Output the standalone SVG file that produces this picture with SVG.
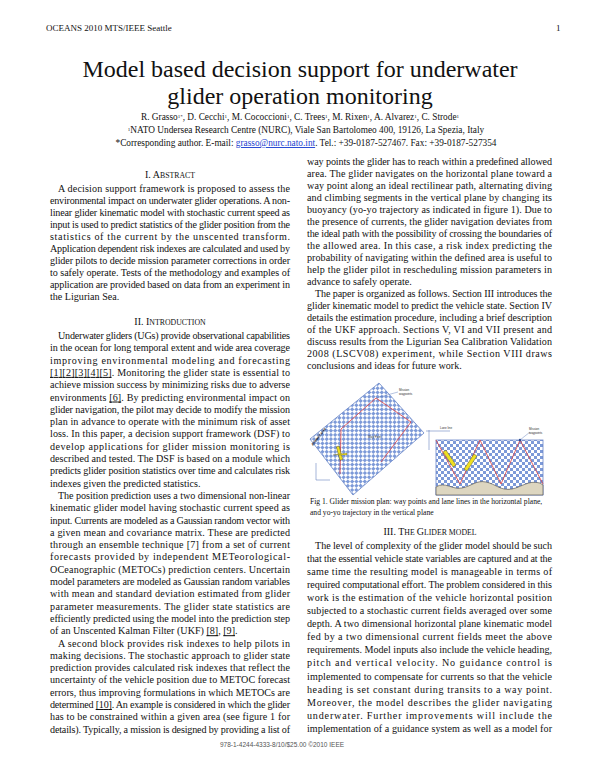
<svg xmlns="http://www.w3.org/2000/svg" width="600" height="776" viewBox="0 0 600 776">
<style>
text{font-family:"Liberation Serif","Times New Roman",serif;fill:#111}
.b{font-size:10.1px}
.h{font-size:10px}
.sc{font-size:7.8px}
.a{text-decoration:underline}
.lk{text-decoration:underline;fill:#1a3fd0}
.cap{font-size:7.6px}
.tiny{font-family:"Liberation Sans",Arial,sans-serif;font-size:3px;fill:#333}
</style>
<defs>
<pattern id="chk" width="6" height="6" patternUnits="userSpaceOnUse">
<rect width="6" height="6" fill="#fff"/>
<rect width="3" height="3" fill="#7d9ad8"/>
<rect x="3" y="3" width="3" height="3" fill="#7d9ad8"/>
</pattern>
<pattern id="chk2" width="6" height="6" patternUnits="userSpaceOnUse" patternTransform="rotate(45)">
<rect width="6" height="6" fill="#fff"/>
<rect width="3" height="3" fill="#7d9ad8"/>
<rect x="3" y="3" width="3" height="3" fill="#7d9ad8"/>
</pattern>
</defs>
<rect width="600" height="776" fill="#fff"/>
<g id="header">
<text x="46" y="31" style="font-size:9px">OCEANS 2010 MTS/IEEE Seattle</text>
<text x="556" y="31" style="font-size:9px">1</text>
</g>
<g id="title" text-anchor="middle">
<text x="300" y="77" style="font-size:24px">Model based decision support for underwater</text>
<text x="300" y="104" style="font-size:24px">glider operation monitoring</text>
<text x="300" y="120" style="font-size:9.3px">R. Grasso<tspan style="font-size:5px" baseline-shift="super">1*</tspan>, D. Cecchi<tspan style="font-size:5px" baseline-shift="super">1</tspan>, M. Cococcioni<tspan style="font-size:5px" baseline-shift="super">1</tspan>, C. Trees<tspan style="font-size:5px" baseline-shift="super">1</tspan>, M. Rixen<tspan style="font-size:5px" baseline-shift="super">1</tspan>, A. Alvarez<tspan style="font-size:5px" baseline-shift="super">1</tspan>, C. Strode<tspan style="font-size:5px" baseline-shift="super">1</tspan></text>
<text x="306" y="133" style="font-size:9.3px"><tspan style="font-size:5px" baseline-shift="super">1</tspan>NATO Undersea Research Centre (NURC), Viale San Bartolomeo 400, 19126, La Spezia, Italy</text>
<text x="306" y="146" style="font-size:9.3px">*Corresponding author. E-mail: <tspan class="lk">grasso@nurc.nato.int</tspan>. Tel.: +39-0187-527467. Fax: +39-0187-527354</text>
</g>
<g id="left" class="b">
<text class="h" x="170" y="178" text-anchor="middle">I.  A<tspan class="sc">BSTRACT</tspan></text>
<text x="58" y="192" textLength="232" lengthAdjust="spacing">A decision support framework is proposed to assess the</text>
<text x="50" y="204" textLength="240" lengthAdjust="spacing">environmental impact on underwater glider operations. A non-</text>
<text x="50" y="216" textLength="240" lengthAdjust="spacing">linear glider kinematic model with stochastic current speed as</text>
<text x="50" y="228" textLength="240" lengthAdjust="spacing">input is used to predict statistics of the glider position from the</text>
<text x="50" y="240" textLength="240" lengthAdjust="spacing">statistics of the current by the unscented transform.</text>
<text x="50" y="252" textLength="240" lengthAdjust="spacing">Application dependent risk indexes are calculated and used by</text>
<text x="50" y="264" textLength="240" lengthAdjust="spacing">glider pilots to decide mission parameter corrections in order</text>
<text x="50" y="276" textLength="240" lengthAdjust="spacing">to safely operate. Tests of the methodology and examples of</text>
<text x="50" y="288" textLength="240" lengthAdjust="spacing">application are provided based on data from an experiment in</text>
<text x="50" y="300">the Ligurian Sea.</text>
<text class="h" x="170" y="325" text-anchor="middle">II.  I<tspan class="sc">NTRODUCTION</tspan></text>
<text x="58" y="339" textLength="232" lengthAdjust="spacing">Underwater gliders (UGs) provide observational capabilities</text>
<text x="50" y="351.3" textLength="240" lengthAdjust="spacing">in the ocean for long temporal extent and wide area coverage</text>
<text x="50" y="363.6" textLength="240" lengthAdjust="spacing">improving environmental modeling and forecasting</text>
<text x="50" y="375.9" textLength="240" lengthAdjust="spacing"><tspan class="a">[1][2][3][4][5]</tspan>. Monitoring the glider state is essential to</text>
<text x="50" y="388.2" textLength="240" lengthAdjust="spacing">achieve mission success by minimizing risks due to adverse</text>
<text x="50" y="400.5" textLength="240" lengthAdjust="spacing">environments <tspan class="a">[6]</tspan>. By predicting environmental impact on</text>
<text x="50" y="412.8" textLength="240" lengthAdjust="spacing">glider navigation, the pilot may decide to modify the mission</text>
<text x="50" y="425.1" textLength="240" lengthAdjust="spacing">plan in advance to operate with the minimum risk of asset</text>
<text x="50" y="437.4" textLength="240" lengthAdjust="spacing">loss. In this paper, a decision support framework (DSF) to</text>
<text x="50" y="449.7" textLength="240" lengthAdjust="spacing">develop applications for glider mission monitoring is</text>
<text x="50" y="462" textLength="240" lengthAdjust="spacing">described and tested. The DSF is based on a module which</text>
<text x="50" y="474.3" textLength="240" lengthAdjust="spacing">predicts glider position statistics over time and calculates risk</text>
<text x="50" y="486.6">indexes given the predicted statistics.</text>
<text x="58" y="498.9" textLength="232" lengthAdjust="spacing">The position prediction uses a two dimensional non-linear</text>
<text x="50" y="511.2" textLength="240" lengthAdjust="spacing">kinematic glider model having stochastic current speed as</text>
<text x="50" y="523.5" textLength="240" lengthAdjust="spacing">input. Currents are modeled as a Gaussian random vector with</text>
<text x="50" y="535.8" textLength="240" lengthAdjust="spacing">a given mean and covariance matrix. These are predicted</text>
<text x="50" y="548.1" textLength="240" lengthAdjust="spacing">through an ensemble technique [7] from a set of current</text>
<text x="50" y="560.4" textLength="240" lengthAdjust="spacing">forecasts provided by independent METeorological-</text>
<text x="50" y="572.7" textLength="240" lengthAdjust="spacing">OCeanographic (METOCs) prediction centers. Uncertain</text>
<text x="50" y="585" textLength="240" lengthAdjust="spacing">model parameters are modeled as Gaussian random variables</text>
<text x="50" y="597.3" textLength="240" lengthAdjust="spacing">with mean and standard deviation estimated from glider</text>
<text x="50" y="609.6" textLength="240" lengthAdjust="spacing">parameter measurements. The glider state statistics are</text>
<text x="50" y="621.9" textLength="240" lengthAdjust="spacing">efficiently predicted using the model into the prediction step</text>
<text x="50" y="634.2">of an Unscented Kalman Filter (UKF) <tspan class="a">[8]</tspan>, <tspan class="a">[9]</tspan>.</text>
<text x="58" y="646.5" textLength="232" lengthAdjust="spacing">A second block provides risk indexes to help pilots in</text>
<text x="50" y="658.8" textLength="240" lengthAdjust="spacing">making decisions. The stochastic approach to glider state</text>
<text x="50" y="671.1" textLength="240" lengthAdjust="spacing">prediction provides calculated risk indexes that reflect the</text>
<text x="50" y="683.4" textLength="240" lengthAdjust="spacing">uncertainty of the vehicle position due to METOC forecast</text>
<text x="50" y="695.7" textLength="240" lengthAdjust="spacing">errors, thus improving formulations in which METOCs are</text>
<text x="50" y="708" textLength="240" lengthAdjust="spacing">determined <tspan class="a">[10]</tspan>. An example is considered in which the glider</text>
<text x="50" y="720.3" textLength="240" lengthAdjust="spacing">has to be constrained within a given area (see figure 1 for</text>
<text x="50" y="732.6" textLength="240" lengthAdjust="spacing">details). Typically, a mission is designed by providing a list of</text>
</g>
<g id="right" class="b">
<text x="307" y="165" textLength="245" lengthAdjust="spacing">way points the glider has to reach within a predefined allowed</text>
<text x="307" y="177" textLength="245" lengthAdjust="spacing">area. The glider navigates on the horizontal plane toward a</text>
<text x="307" y="189" textLength="245" lengthAdjust="spacing">way point along an ideal rectilinear path, alternating diving</text>
<text x="307" y="201" textLength="245" lengthAdjust="spacing">and climbing segments in the vertical plane by changing its</text>
<text x="307" y="213" textLength="245" lengthAdjust="spacing">buoyancy (yo-yo trajectory as indicated in figure 1). Due to</text>
<text x="307" y="225" textLength="245" lengthAdjust="spacing">the presence of currents, the glider navigation deviates from</text>
<text x="307" y="237" textLength="245" lengthAdjust="spacing">the ideal path with the possibility of crossing the boundaries of</text>
<text x="307" y="249" textLength="245" lengthAdjust="spacing">the allowed area. In this case, a risk index predicting the</text>
<text x="307" y="261" textLength="245" lengthAdjust="spacing">probability of navigating within the defined area is useful to</text>
<text x="307" y="273" textLength="245" lengthAdjust="spacing">help the glider pilot in rescheduling mission parameters in</text>
<text x="307" y="285">advance to safely operate.</text>
<text x="315" y="297" textLength="237" lengthAdjust="spacing">The paper is organized as follows. Section III introduces the</text>
<text x="307" y="309" textLength="245" lengthAdjust="spacing">glider kinematic model to predict the vehicle state. Section IV</text>
<text x="307" y="321" textLength="245" lengthAdjust="spacing">details the estimation procedure, including a brief description</text>
<text x="307" y="333" textLength="245" lengthAdjust="spacing">of the UKF approach. Sections V, VI and VII present and</text>
<text x="307" y="345" textLength="245" lengthAdjust="spacing">discuss results from the Ligurian Sea Calibration Validation</text>
<text x="307" y="357" textLength="245" lengthAdjust="spacing">2008 (LSCV08) experiment, while Section VIII draws</text>
<text x="307" y="369">conclusions and ideas for future work.</text>
<text class="cap" x="310" y="504">Fig 1. Glider mission plan: way points and lane lines in the horizontal plane,</text>
<text class="cap" x="310" y="515">and yo-yo trajectory in the vertical plane</text>
<text class="h" x="430" y="535" text-anchor="middle">III.  T<tspan class="sc">HE </tspan>G<tspan class="sc">LIDER MODEL</tspan></text>
<text x="315" y="549" textLength="237" lengthAdjust="spacing">The level of complexity of the glider model should be such</text>
<text x="307" y="562.05" textLength="245" lengthAdjust="spacing">that the essential vehicle state variables are captured and at the</text>
<text x="307" y="575.1" textLength="245" lengthAdjust="spacing">same time the resulting model is manageable in terms of</text>
<text x="307" y="588.15" textLength="245" lengthAdjust="spacing">required computational effort. The problem considered in this</text>
<text x="307" y="601.2" textLength="245" lengthAdjust="spacing">work is the estimation of the vehicle horizontal position</text>
<text x="307" y="614.25" textLength="245" lengthAdjust="spacing">subjected to a stochastic current fields averaged over some</text>
<text x="307" y="627.3" textLength="245" lengthAdjust="spacing">depth. A two dimensional horizontal plane kinematic model</text>
<text x="307" y="640.35" textLength="245" lengthAdjust="spacing">fed by a two dimensional current fields meet the above</text>
<text x="307" y="653.4" textLength="245" lengthAdjust="spacing">requirements. Model inputs also include the vehicle heading,</text>
<text x="307" y="666.45" textLength="245" lengthAdjust="spacing">pitch and vertical velocity. No guidance control is</text>
<text x="307" y="679.5" textLength="245" lengthAdjust="spacing">implemented to compensate for currents so that the vehicle</text>
<text x="307" y="692.55" textLength="245" lengthAdjust="spacing">heading is set constant during transits to a way point.</text>
<text x="307" y="705.6" textLength="245" lengthAdjust="spacing">Moreover, the model describes the glider navigating</text>
<text x="307" y="718.65" textLength="245" lengthAdjust="spacing">underwater. Further improvements will include the</text>
<text x="307" y="731.7" textLength="245" lengthAdjust="spacing">implementation of a guidance system as well as a model for</text>
</g>
<g id="figure">
<polygon points="379,383 424,433 353,495 310,439" fill="url(#chk2)" stroke="#6a86c8" stroke-width="0.8"/>
<polyline points="340,474 341,429 376,398 411,422 381,462" fill="none" stroke="#e04040" stroke-width="0.8"/>
<line x1="376" y1="398" x2="398" y2="392" stroke="#4a6ab0" stroke-width="0.4"/>
<text class="tiny" x="399" y="391">Mission</text>
<text class="tiny" x="399" y="395">waypoints</text>
<text class="tiny" x="368" y="438">Way Point</text>
<text class="tiny" x="313" y="446" transform="rotate(-52 313 446)" style="font-size:3.5px;fill:#000;font-weight:bold">Allowed area</text>
<path d="M338,446 l3,0 l0,14 l-3,0 z" fill="#f0e020" stroke="#333" stroke-width="0.4" transform="rotate(-15 340 453)"/>
<path d="M333,455 l14,-2 l0,2 z" fill="#f0e020" stroke="#333" stroke-width="0.3"/>
<path d="M316,463 v17 h14" fill="none" stroke="#4a6ab0" stroke-width="0.5"/>
<rect x="436" y="440" width="107" height="55" fill="url(#chk)" stroke="#6a86c8" stroke-width="0.8"/>
<path d="M436,495 L436,487 C445,481 452,490 462,488 C472,486 476,480 486,482 C496,484 500,491 512,489 C522,487 528,480 540,483 L543,485 L543,495 Z" fill="#ddd6c0" stroke="#444" stroke-width="0.6"/>
<polyline points="436,440 460,484 480,440 501,484 520,440 543,484" fill="none" stroke="#e04040" stroke-width="0.8"/>
<circle cx="520" cy="440" r="1.2" fill="#2a4a90"/>
<line x1="520" y1="440" x2="530" y2="432" stroke="#4a6ab0" stroke-width="0.4"/>
<text class="tiny" x="529" y="430">Mission</text>
<text class="tiny" x="529" y="434">waypoints</text>
<path d="M429,430 v20 M426,431 h24" fill="none" stroke="#4a6ab0" stroke-width="0.5"/>
<text class="tiny" x="440" y="429">Lane line</text>
<path d="M443,452 l3,-2 l10,15 l-3,2 z" fill="#f0e020" stroke="#333" stroke-width="0.4"/>
<path d="M464,469 l10,-15 l3,2 l-10,15 z" fill="#f0e020" stroke="#333" stroke-width="0.4"/>
</g>
<text x="220" y="747" style="font-family:'Liberation Sans',Arial,sans-serif;font-size:6.5px;fill:#555">978-1-4244-4333-8/10/$25.00 ©2010 IEEE</text>
</svg>
